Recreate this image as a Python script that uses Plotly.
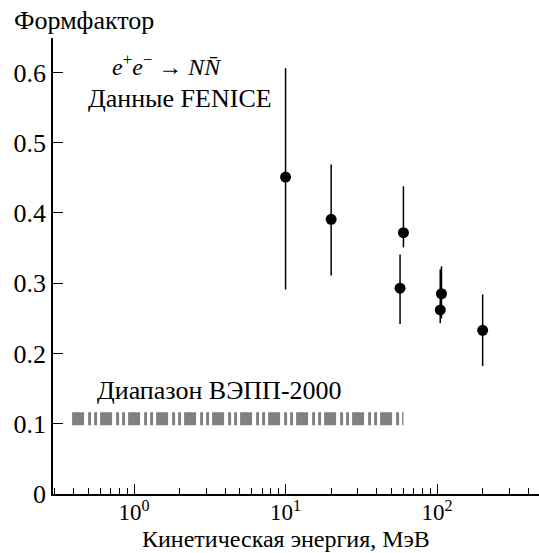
import plotly.graph_objects as go

# Data
energy = [10, 20, 60, 57, 107, 105, 200]          # MeV
formfactor = [0.451, 0.391, 0.372, 0.293, 0.285, 0.262, 0.233]
err_top = [0.606, 0.469, 0.438, 0.341, 0.324, 0.320, 0.284]
err_bottom = [0.291, 0.311, 0.351, 0.242, 0.250, 0.243, 0.182]

band_energy = [0.39, 60]
band_level = [0.107, 0.107]

x_major = [1, 10, 100]
x_major_text = ["10<sup>0</sup>", "10<sup>1</sup>", "10<sup>2</sup>"]
x_minor = [m * d for d in (0.1, 1, 10, 100) for m in range(2, 10) if 0.3 < m * d < 480]
y_ticks = [0, 0.1, 0.2, 0.3, 0.4, 0.5, 0.6]

FONT = "Liberation Serif"

fig = go.Figure()

fig.add_trace(go.Scatter(
    x=band_energy, y=band_level, mode="lines",
    line=dict(color="#808080", width=13, dash="12px,4px,3px,3px,3px,3px"),
    hoverinfo="skip", showlegend=False,
))

plus = [t - f for t, f in zip(err_top, formfactor)]
minus = [f - b for f, b in zip(formfactor, err_bottom)]
fig.add_trace(go.Scatter(
    x=energy, y=formfactor, mode="markers",
    marker=dict(color="black", size=11),
    error_y=dict(type="data", symmetric=False, array=plus, arrayminus=minus,
                 color="black", thickness=1.5, width=0),
    showlegend=False,
))

fig.update_xaxes(
    type="log", range=[-0.535, 2.673],
    showline=True, linecolor="black", linewidth=1.5,
    tickvals=x_major, ticktext=x_major_text,
    ticks="inside", ticklen=10, tickwidth=1.2, tickcolor="black",
    minor=dict(tickvals=x_minor, ticks="inside", ticklen=6, tickwidth=1.2, tickcolor="black"),
    showgrid=False, zeroline=False,
    ticklabelstandoff=-3,
    tickfont=dict(family=FONT, size=23, color="black"),
)
fig.update_yaxes(
    range=[0, 0.649],
    showline=True, linecolor="black", linewidth=1.5,
    tickvals=y_ticks, ticktext=["0", "0.1", "0.2", "0.3", "0.4", "0.5", "0.6"],
    ticks="inside", ticklen=10, tickwidth=1.2, tickcolor="black",
    showgrid=False, zeroline=False,
    tickfont=dict(family=FONT, size=26, color="black"),
)

ann_font = dict(family=FONT, size=26, color="black")
fig.add_annotation(xref="paper", yref="paper", x=-0.084, y=1.039, xanchor="left", yanchor="middle",
                   text="Формфактор", showarrow=False, font=ann_font)
fig.add_annotation(xref="paper", yref="paper", x=0.2346, y=0.94, xanchor="center", yanchor="middle",
                   text="<i>e</i><sup>+</sup><i>e</i><sup>−</sup> → <i>NN̄</i>", showarrow=False,
                   font=dict(family=FONT, size=24, color="black"))
fig.add_annotation(xref="paper", yref="paper", x=0.262, y=0.868, xanchor="center", yanchor="middle",
                   text="Данные FENICE", showarrow=False, font=ann_font)
fig.add_annotation(xref="paper", yref="paper", x=0.342, y=0.228, xanchor="center", yanchor="middle",
                   text="Диапазон ВЭПП-2000", showarrow=False, font=ann_font)
fig.add_annotation(xref="paper", yref="paper", x=0.48, y=-0.132, xanchor="center", yanchor="bottom",
                   text="Кинетическая энергия, МэВ", showarrow=False,
                   font=dict(family=FONT, size=24, color="black"))

fig.update_layout(
    width=539, height=553,
    margin=dict(l=53, r=0, t=38, b=59),
    paper_bgcolor="white", plot_bgcolor="white",
    font=dict(family=FONT, color="black", size=26),
)

fig.write_html("out.html")
